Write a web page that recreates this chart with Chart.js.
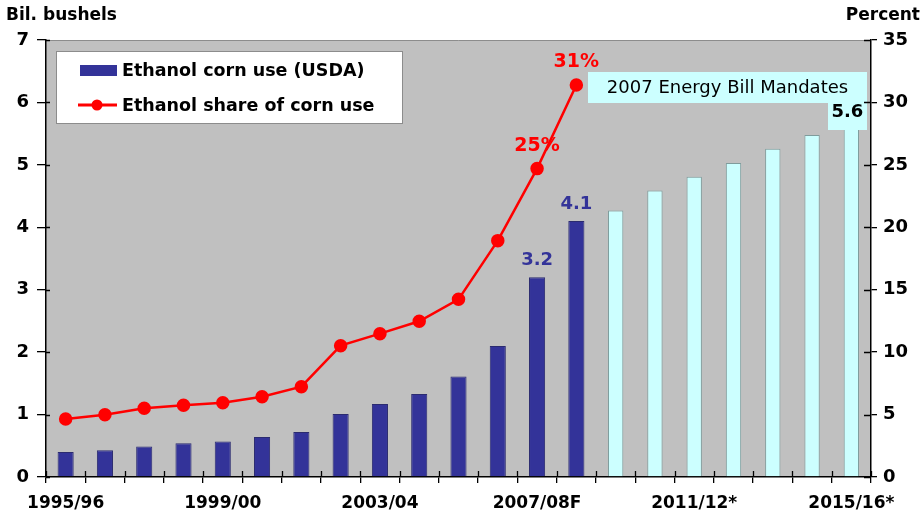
<!DOCTYPE html>
<html>
<head>
<meta charset="utf-8">
<script src="https://cdn.jsdelivr.net/npm/chart.js@4"></script>
<style>
  body { margin: 0; background: #fff; }
  #wrap { width: 922px; height: 514px; }
</style>
</head>
<body>
<div id="wrap"><canvas id="chart" width="922" height="514"></canvas></div>
<script>
// categories (marketing years)
const categories = ['1995/96', '1996/97', '1997/98', '1998/99', '1999/00', '2000/01', '2001/02',
    '2002/03', '2003/04', '2004/05', '2005/06', '2006/07', '2007/08F', '2008/09F',
    '2009/10*', '2010/11*', '2011/12*', '2012/13*', '2013/14*', '2014/15*', '2015/16*'];

// billion bushels, USDA ethanol corn use
const usdaCornUse = [0.40, 0.43, 0.49, 0.54, 0.57, 0.64, 0.72, 1.01, 1.17, 1.33, 1.61, 2.10, 3.2, 4.1,
    null, null, null, null, null, null, null];
// billion bushels, 2007 Energy Bill mandates
const mandateCornUse = [null, null, null, null, null, null, null, null, null, null, null, null, null, null,
    4.27, 4.59, 4.81, 5.03, 5.26, 5.48, 5.6];
// percent, ethanol share of corn use
const ethanolShare = [4.65, 4.99, 5.5, 5.74, 5.95, 6.43, 7.23, 10.52, 11.48, 12.47, 14.23, 18.93, 24.7, 31.4,
    null, null, null, null, null, null, null];

const leftTicks = [0, 1, 2, 3, 4, 5, 6, 7];
const rightTicks = [0, 5, 10, 15, 20, 25, 30, 35];

// callouts: category index -> label
const usdaCallouts = { 12: '3.2', 13: '4.1' };
const mandateCallouts = { 20: '5.6' };
const shareCallouts = { 12: '25%', 13: '31%' };

const FONT = "'DejaVu Sans', Arial, sans-serif";
const NAVY = '#333399';
const CYAN = '#ccffff';
const RED = '#ff0000';

// grey plot background + tick stubs inside the plot
const plotBackground = {
    id: 'plotBackground',
    beforeDraw: (chart) => {
        const { ctx, chartArea: { left, right, top, bottom } } = chart;
        ctx.save();
        ctx.fillStyle = '#c0c0c0';
        ctx.fillRect(left, top, right - left, bottom - top);
        ctx.strokeStyle = '#8c8c8c';
        ctx.lineWidth = 1;
        ctx.beginPath();
        ctx.moveTo(left, top + 0.5);
        ctx.lineTo(right, top + 0.5);
        ctx.stroke();
        ctx.restore();
    },
    afterDraw: (chart) => {
        const { ctx, chartArea: { left, right, bottom }, scales: { x, y, y1 } } = chart;
        ctx.save();
        ctx.strokeStyle = '#000';
        ctx.lineWidth = 1.3;
        ctx.beginPath();
        y.ticks.forEach(t => {
            const py = Math.round(y.getPixelForValue(t.value)) + 0.5;
            ctx.moveTo(left, py); ctx.lineTo(left + 4, py);
        });
        y1.ticks.forEach(t => {
            const py = Math.round(y1.getPixelForValue(t.value)) + 0.5;
            ctx.moveTo(right - 7, py); ctx.lineTo(right, py);
        });
        for (let i = 0; i <= categories.length; i++) {
            const px = Math.round(x.getPixelForValue(i - 0.5)) + 0.5;
            ctx.moveTo(px, bottom - 6); ctx.lineTo(px, bottom);
        }
        ctx.stroke();
        ctx.restore();
    }
};

// legend box, text boxes and value callouts
const annotations = {
    id: 'annotations',
    afterDatasetsDraw: (chart) => {
        const { ctx, chartArea: { left, right, top }, scales: { x, y, y1 } } = chart;
        ctx.save();

        // legend
        ctx.fillStyle = '#fff';
        ctx.fillRect(left + 10, top + 11, 346, 72);
        ctx.strokeStyle = '#8c8c8c';
        ctx.lineWidth = 1;
        ctx.strokeRect(left + 10.5, top + 11.5, 346, 72);
        ctx.fillStyle = NAVY;
        ctx.fillRect(left + 34, top + 25, 37, 11);
        ctx.strokeStyle = RED;
        ctx.lineWidth = 3;
        ctx.beginPath();
        ctx.moveTo(left + 32, top + 65);
        ctx.lineTo(left + 71, top + 65);
        ctx.stroke();
        ctx.fillStyle = RED;
        ctx.beginPath();
        ctx.arc(left + 51, top + 65, 5.5, 0, Math.PI * 2);
        ctx.fill();
        ctx.fillStyle = '#000';
        ctx.font = 'bold 17.5px ' + FONT;
        ctx.textAlign = 'left';
        ctx.textBaseline = 'middle';
        ctx.fillText(chart.data.datasets[0].label, left + 76, top + 31);
        ctx.fillText(chart.data.datasets[2].label, left + 76, top + 66);

        // mandates box
        ctx.fillStyle = CYAN;
        ctx.fillRect(588, top + 32, right - 4 - 588, 31);
        ctx.fillRect(right - 43, top + 63, 39, 27);
        ctx.fillStyle = '#000';
        ctx.font = '18px ' + FONT;
        ctx.textAlign = 'center';
        ctx.fillText('2007 Energy Bill Mandates', (588 + right - 4) / 2, top + 48);

        // bar callouts
        ctx.textBaseline = 'alphabetic';
        ctx.font = 'bold 18px ' + FONT;
        ctx.fillStyle = NAVY;
        Object.keys(usdaCallouts).forEach(i => {
            ctx.fillText(usdaCallouts[i], x.getPixelForValue(+i), y.getPixelForValue(usdaCornUse[i]) - 12);
        });
        ctx.fillStyle = '#000';
        Object.keys(mandateCallouts).forEach(i => {
            ctx.fillText(mandateCallouts[i], x.getPixelForValue(+i) - 4, y.getPixelForValue(mandateCornUse[i]) - 10);
        });
        ctx.fillStyle = RED;
        ctx.font = 'bold 19px ' + FONT;
        Object.keys(shareCallouts).forEach(i => {
            ctx.fillText(shareCallouts[i], x.getPixelForValue(+i), y1.getPixelForValue(ethanolShare[i]) - 18);
        });

        // axis titles
        ctx.fillStyle = '#000';
        ctx.font = 'bold 17px ' + FONT;
        ctx.textBaseline = 'middle';
        ctx.textAlign = 'left';
        ctx.fillText('Bil. bushels', 6, 16);
        ctx.textAlign = 'right';
        ctx.fillText('Percent', 920, 16);
        ctx.restore();
    }
};

new Chart(document.getElementById('chart'), {
    data: {
        labels: categories,
        datasets: [
            {
                type: 'bar',
                label: 'Ethanol corn use (USDA)',
                data: usdaCornUse,
                yAxisID: 'y',
                backgroundColor: NAVY,
                borderColor: '#2b2b70',
                borderWidth: 1,
                grouped: false,
                categoryPercentage: 1,
                barPercentage: 0.41,
                order: 2,
            },
            {
                type: 'bar',
                label: '2007 Energy Bill Mandates',
                data: mandateCornUse,
                yAxisID: 'y',
                backgroundColor: CYAN,
                borderColor: '#7f9c9c',
                borderWidth: 1,
                grouped: false,
                categoryPercentage: 1,
                barPercentage: 0.39,
                order: 2,
            },
            {
                type: 'line',
                label: 'Ethanol share of corn use',
                data: ethanolShare,
                yAxisID: 'y1',
                borderColor: RED,
                backgroundColor: RED,
                borderWidth: 2.5,
                pointRadius: 5.5,
                pointHoverRadius: 5.5,
                tension: 0,
                order: 1,
            },
        ],
    },
    options: {
        responsive: false,
        animation: false,
        layout: { padding: { top: 40, left: 0, right: 0, bottom: 0 } },
        plugins: { legend: { display: false }, tooltip: { enabled: false } },
        scales: {
            x: {
                offset: true,
                grid: { offset: true, drawOnChartArea: false, color: '#000', tickLength: 6, lineWidth: 1.3 },
                border: { color: '#000', width: 1.5 },
                ticks: {
                    autoSkip: false,
                    maxRotation: 0,
                    padding: 10,
                    color: '#000',
                    font: { family: FONT, size: 17, weight: 'bold' },
                    callback: (v, i) => (i % 4 === 0 ? categories[i] : ''),
                },
                afterFit: (s) => { s.height = 37; },
            },
            y: {
                position: 'left',
                min: leftTicks[0],
                max: leftTicks[leftTicks.length - 1],
                afterBuildTicks: (s) => { s.ticks = leftTicks.map(v => ({ value: v })); },
                grid: { drawOnChartArea: false, color: '#000', tickLength: 9, lineWidth: 1.3 },
                border: { color: '#000', width: 1.5 },
                ticks: { padding: 8, color: '#000', font: { family: FONT, size: 18, weight: 'bold' } },
                afterFit: (s) => { s.width = 46; },
            },
            y1: {
                position: 'right',
                min: rightTicks[0],
                max: rightTicks[rightTicks.length - 1],
                afterBuildTicks: (s) => { s.ticks = rightTicks.map(v => ({ value: v })); },
                grid: { drawOnChartArea: false, color: '#000', tickLength: 6, lineWidth: 1.3 },
                border: { color: '#000', width: 1.5 },
                ticks: { padding: 6, color: '#000', font: { family: FONT, size: 18, weight: 'bold' } },
                afterFit: (s) => { s.width = 51; },
            },
        },
    },
    plugins: [plotBackground, annotations],
});
</script>
</body>
</html>
